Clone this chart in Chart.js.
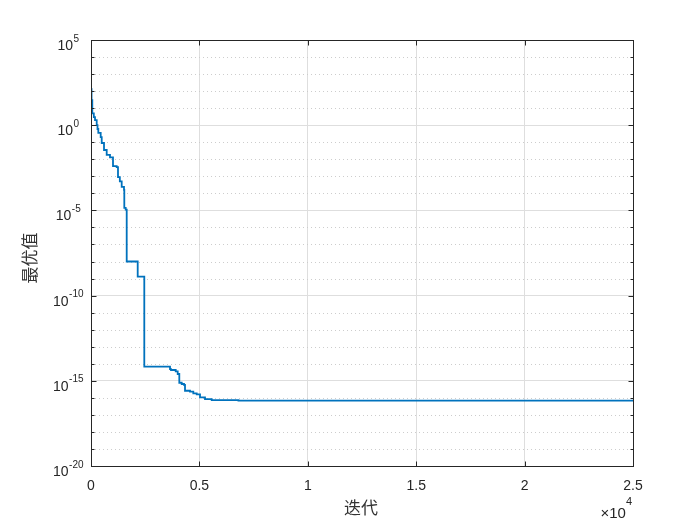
<!DOCTYPE html>
<html><head><meta charset="utf-8">
<script src="https://cdn.jsdelivr.net/npm/chart.js@4.4.0/dist/chart.umd.min.js"></script>
<style>html,body{margin:0;padding:0;background:#fff;}canvas{display:block;}</style>
</head><body>
<canvas id="c" width="700" height="525"></canvas>
<script>
// ---- data ----
const iterations = [0, 25, 60, 130, 185, 263, 300, 337, 447, 494, 600, 724, 876, 1015, 1185, 1245, 1330, 1416, 1522, 1536, 1600, 1647, 2154, 2458, 3644, 3690, 3907, 3999, 4073, 4184, 4290, 4336, 4566, 4719, 4875, 5028, 5258, 5567, 6800, 25000];
const bestValues = [130, 30, 5, 3, 2, 1.0, 0.6, 0.35, 0.2, 0.09, 0.035, 0.018, 0.013, 0.004, 0.0035, 9e-4, 5e-4, 2.4e-4, 1.6e-4, 1.4e-5, 1.1e-5, 1.0e-8, 1.3e-9, 6.7e-15, 4.9e-15, 4.3e-15, 3.6e-15, 2.5e-15, 7.7e-16, 6.5e-16, 5.7e-16, 2.6e-16, 2.3e-16, 1.85e-16, 1.6e-16, 1.07e-16, 8.5e-17, 7.4e-17, 6.9e-17, 6.9e-17];
const xTickValues = [0, 5000, 10000, 15000, 20000, 25000];
const yExponents = [5, 4, 3, 2, 1, 0, -1, -2, -3, -4, -5, -6, -7, -8, -9, -10, -11, -12, -13, -14, -15, -16, -17, -18, -19, -20];
const yLabelExponents = [5, 0, -5, -10, -15, -20];
const xAxisTitle = '迭代';
const yAxisTitle = '最优值';
const xMultiplierExp = '4';

const TEXT = '#262626';
const LAT = '"Liberation Sans", Arial, sans-serif';
const CJK = '"Noto Sans CJK SC", sans-serif';

const matlabAxes = {
  id: 'matlabAxes',
  beforeDatasetsDraw(chart) {
    const {ctx, chartArea: a, scales: {y}} = chart;
    ctx.save();
    ctx.strokeStyle = '#cdcdcd';
    ctx.lineWidth = 1;
    ctx.setLineDash([1, 3]);
    yExponents.forEach(e => {
      if (yLabelExponents.includes(e)) return;
      const py = Math.round(y.getPixelForValue(Math.pow(10, e))) + 0.5;
      ctx.beginPath(); ctx.moveTo(a.left, py); ctx.lineTo(a.right, py); ctx.stroke();
    });
    ctx.restore();
  },
  afterDraw(chart) {
    const {ctx, chartArea: a, scales: {x, y}} = chart;
    ctx.save();
    ctx.strokeStyle = TEXT; ctx.lineWidth = 1; ctx.setLineDash([]);
    const L = Math.round(a.left) + 0.5, R = Math.round(a.right) + 0.5;
    const T = Math.round(a.top) + 0.5, B = Math.round(a.bottom) + 0.5;
    ctx.strokeRect(L, T, R - L, B - T);
    xTickValues.forEach(v => {
      const px = Math.round(x.getPixelForValue(v)) + 0.5;
      ctx.beginPath();
      ctx.moveTo(px, B); ctx.lineTo(px, B - 5);
      ctx.moveTo(px, T); ctx.lineTo(px, T + 5);
      ctx.stroke();
    });
    yExponents.forEach(e => {
      const py = Math.round(y.getPixelForValue(Math.pow(10, e))) + 0.5;
      const len = yLabelExponents.includes(e) ? 5 : 3;
      ctx.beginPath();
      ctx.moveTo(L, py); ctx.lineTo(L + len, py);
      ctx.moveTo(R, py); ctx.lineTo(R - len, py);
      ctx.stroke();
    });
    ctx.fillStyle = TEXT;
    ctx.textAlign = 'left';
    ctx.textBaseline = 'alphabetic';
    const baseF = '14px ' + LAT, supF = '10px ' + LAT;
    yLabelExponents.forEach(e => {
      const py = y.getPixelForValue(Math.pow(10, e));
      const sup = String(e);
      ctx.font = baseF; const wb = ctx.measureText('10').width;
      ctx.font = supF; const ws = ctx.measureText(sup).width;
      const x0 = 68 - (wb + ws) / 2;
      ctx.font = baseF; ctx.fillText('10', x0, py + 10);
      ctx.font = supF; ctx.fillText(sup, x0 + wb + 0.5, py + 1.5);
    });
    ctx.font = '11px ' + LAT;
    const w4 = ctx.measureText(xMultiplierExp).width;
    ctx.font = '15px ' + LAT;
    const w10 = ctx.measureText('10').width;
    const wx = ctx.measureText('\u00d7').width;
    const right = 632;
    ctx.fillText('10', right - w4 - w10, 518);
    ctx.fillText('\u00d7', right - w4 - w10 - wx, 518);
    ctx.font = '11px ' + LAT;
    ctx.fillText(xMultiplierExp, right - w4, 505);
    ctx.font = '17px ' + CJK;
    ctx.fillStyle = '#333333';
    ctx.textAlign = 'center';
    ctx.textBaseline = 'middle';
    ctx.fillText(xAxisTitle, 361, 508);
    ctx.save();
    ctx.translate(30, 258);
    ctx.rotate(-Math.PI / 2);
    ctx.fillText(yAxisTitle, 0, 0);
    ctx.restore();
    ctx.restore();
  }
};

new Chart(document.getElementById('c'), {
  type: 'line',
  data: {
    datasets: [{
      data: iterations.map((v, i) => ({x: v, y: bestValues[i]})),
      borderColor: '#0072BD',
      borderWidth: 1.8,
      pointRadius: 0,
      stepped: 'before',
      fill: false
    }]
  },
  options: {
    responsive: false,
    animation: false,
    devicePixelRatio: 1,
    layout: {padding: {left: 0, top: 40, right: 67, bottom: 0}},
    plugins: {legend: {display: false}, tooltip: {enabled: false}},
    scales: {
      x: {
        type: 'linear', min: 0, max: 25000,
        afterBuildTicks: s => { s.ticks = xTickValues.map(v => ({value: v})); },
        afterFit: s => { s.height = 59; },
        ticks: {
          callback: v => String(v / 10000),
          font: {family: LAT, size: 14},
          color: TEXT,
          padding: 12,
          maxRotation: 0,
          autoSkip: false
        },
        grid: {color: '#dedede', drawTicks: false, lineWidth: 1},
        border: {display: false}
      },
      y: {
        type: 'logarithmic', min: 1e-20, max: 1e5,
        afterBuildTicks: s => { s.ticks = yLabelExponents.map(e => ({value: Math.pow(10, e)})); },
        afterFit: s => { s.width = 91; },
        ticks: {display: false},
        grid: {color: '#dedede', drawTicks: false, lineWidth: 1},
        border: {display: false}
      }
    }
  },
  plugins: [matlabAxes]
});
</script>
</body></html>
